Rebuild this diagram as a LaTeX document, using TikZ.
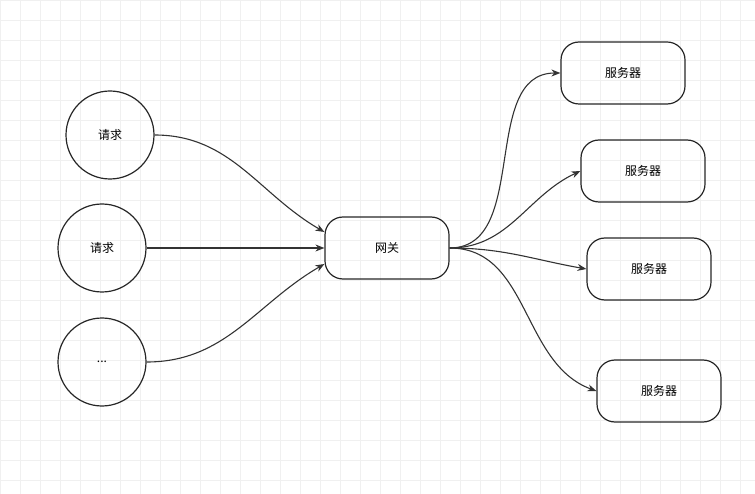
\documentclass[tikz,border=0pt]{standalone}
\usepackage{fontspec}
\setmainfont{Noto Sans CJK SC}
\usetikzlibrary{arrows.meta}
\tikzset{
  req/.style={draw=black!85,line width=1.2pt,circle,minimum size=88pt,inner sep=0pt,font=\fontsize{12}{14}\selectfont},
  box/.style={draw=black!85,line width=1.2pt,rounded corners=18pt,minimum width=124pt,minimum height=62pt,font=\fontsize{12}{14}\selectfont},
  link/.style={draw=black!80,line width=1.1pt,-{Stealth[length=9pt,width=7pt]}}
}
\begin{document}
\begin{tikzpicture}[x=1pt,y=-1pt]
  \useasboundingbox (0,0) rectangle (755,494);
  % background grid
  \draw[black!6,line width=0.6pt] (0,0) grid[step=20pt] (755,494);
  \node[req] (r1) at (110,135) {请求};
  \node[req] (r2) at (102,248) {请求};
  \node[req] (r3) at (102,362) {...};
  \node[box] (gw) at (387,248) {网关};
  \node[box] (s1) at (623,73) {服务器};
  \node[box] (s2) at (643,171) {服务器};
  \node[box] (s3) at (649,269) {服务器};
  \node[box] (s4) at (659,391) {服务器};
  \draw[link] (r1.east) to[out=0,in=150] ([yshift=16pt]gw.west);
  \draw[link] (r2.east) -- (gw.west);
  \draw[link] (r3.east) to[out=0,in=210] ([yshift=-16pt]gw.west);
  \draw[link] (gw.east) to[out=0,in=180] (s1.west);
  \draw[link] (gw.east) to[out=0,in=205] (s2.west);
  \draw[link] (gw.east) to[out=0,in=170] (s3.west);
  \draw[link] (gw.east) to[out=0,in=160] (s4.west);
\end{tikzpicture}
\end{document}
